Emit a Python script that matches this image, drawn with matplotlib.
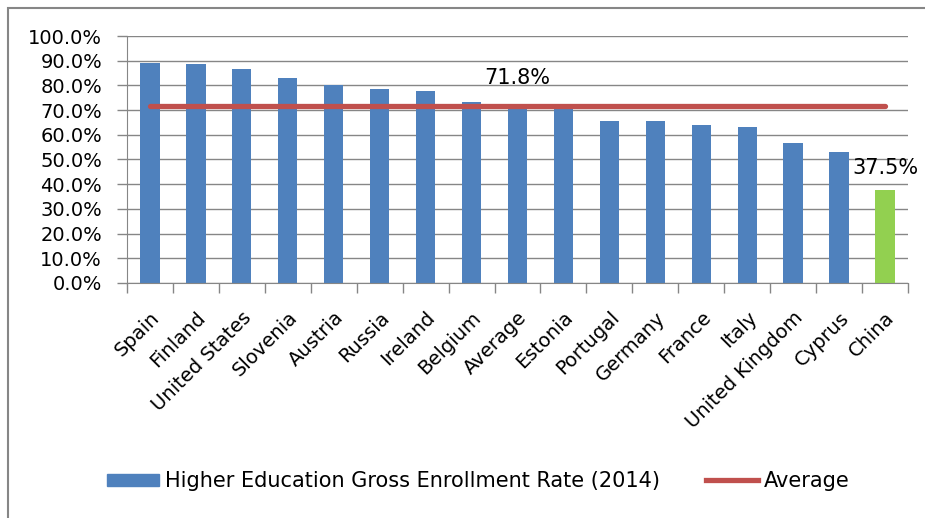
import matplotlib
matplotlib.use("Agg")
import matplotlib.pyplot as plt
from matplotlib.patches import Rectangle
from matplotlib.lines import Line2D
from matplotlib.patches import Patch
from matplotlib.ticker import FuncFormatter, FixedLocator

# data
countries = ["Spain", "Finland", "United States", "Slovenia", "Austria", "Russia",
             "Ireland", "Belgium", "Average", "Estonia", "Portugal", "Germany",
             "France", "Italy", "United Kingdom", "Cyprus", "China"]
rates = [89.1, 88.7, 86.6, 83.0, 80.0, 78.5, 77.7, 73.3, 71.8, 71.7,
         65.6, 65.6, 64.0, 63.2, 56.7, 53.0, 37.5]
average = 71.8
bar_label = "Higher Education Gross Enrollment Rate (2014)"
line_label = "Average"

blue = "#4F81BD"
green = "#92D050"
red = "#C0504D"
grid_grey = "#868686"

plt.rcParams["font.family"] = "DejaVu Sans"

fig = plt.figure(figsize=(9.25, 5.18), dpi=100)
ax = fig.add_axes([0.1373, 0.4537, 0.8443, 0.4768])

x = list(range(len(countries)))
colors = [green if c == "China" else blue for c in countries]
ax.bar(x, rates, width=0.42, color=colors, zorder=2)
ax.plot([x[0], x[-1]], [average, average], color=red, lw=3.8, zorder=3,
        solid_capstyle="round")

ax.set_xlim(-0.5, len(countries) - 0.5)
ax.set_ylim(0, 100)
ax.set_yticks(range(0, 101, 10))
ax.yaxis.set_major_formatter(FuncFormatter(lambda v, p: f"{v:.1f}%"))
ax.grid(axis="y", color=grid_grey, lw=1, zorder=0)

ax.set_xticks(x)
ax.set_xticklabels(countries, rotation=45, ha="right", rotation_mode="anchor",
                   fontsize=14)
ax.xaxis.set_minor_locator(FixedLocator([i - 0.5 for i in range(len(countries) + 1)]))
ax.tick_params(axis="x", which="major", length=0, pad=18)
ax.tick_params(axis="x", which="minor", length=7, color=grid_grey, width=1)
ax.tick_params(axis="y", length=7, color=grid_grey, width=1, labelsize=14, pad=11)

for side in ["top", "right"]:
    ax.spines[side].set_visible(False)
for side in ["left", "bottom"]:
    ax.spines[side].set_color(grid_grey)

i_avg = countries.index("Average")
ax.annotate(f"{average:.1f}%", (i_avg, average), xytext=(0, 20),
            textcoords="offset points", ha="center", va="center", fontsize=15)
i_cn = countries.index("China")
ax.annotate(f"{rates[i_cn]:.1f}%", (i_cn, rates[i_cn]), xytext=(0, 16),
            textcoords="offset points", ha="center", va="center", fontsize=15)

handles = [Patch(color=blue), Line2D([0], [0], color=red, lw=3.8)]
fig.legend(handles, [bar_label, line_label], loc="center", bbox_to_anchor=(0.517, 0.071),
           ncol=2, frameon=False, fontsize=15, handlelength=2.5, handleheight=0.55,
           handletextpad=0.3, columnspacing=2.2)

fig.add_artist(Rectangle((8 / 925, -0.2), 1.5, 1.2 - 8 / 518,
                         transform=fig.transFigure, fill=False,
                         edgecolor=grid_grey, lw=1.5))

fig.savefig("out.png", dpi=100)
